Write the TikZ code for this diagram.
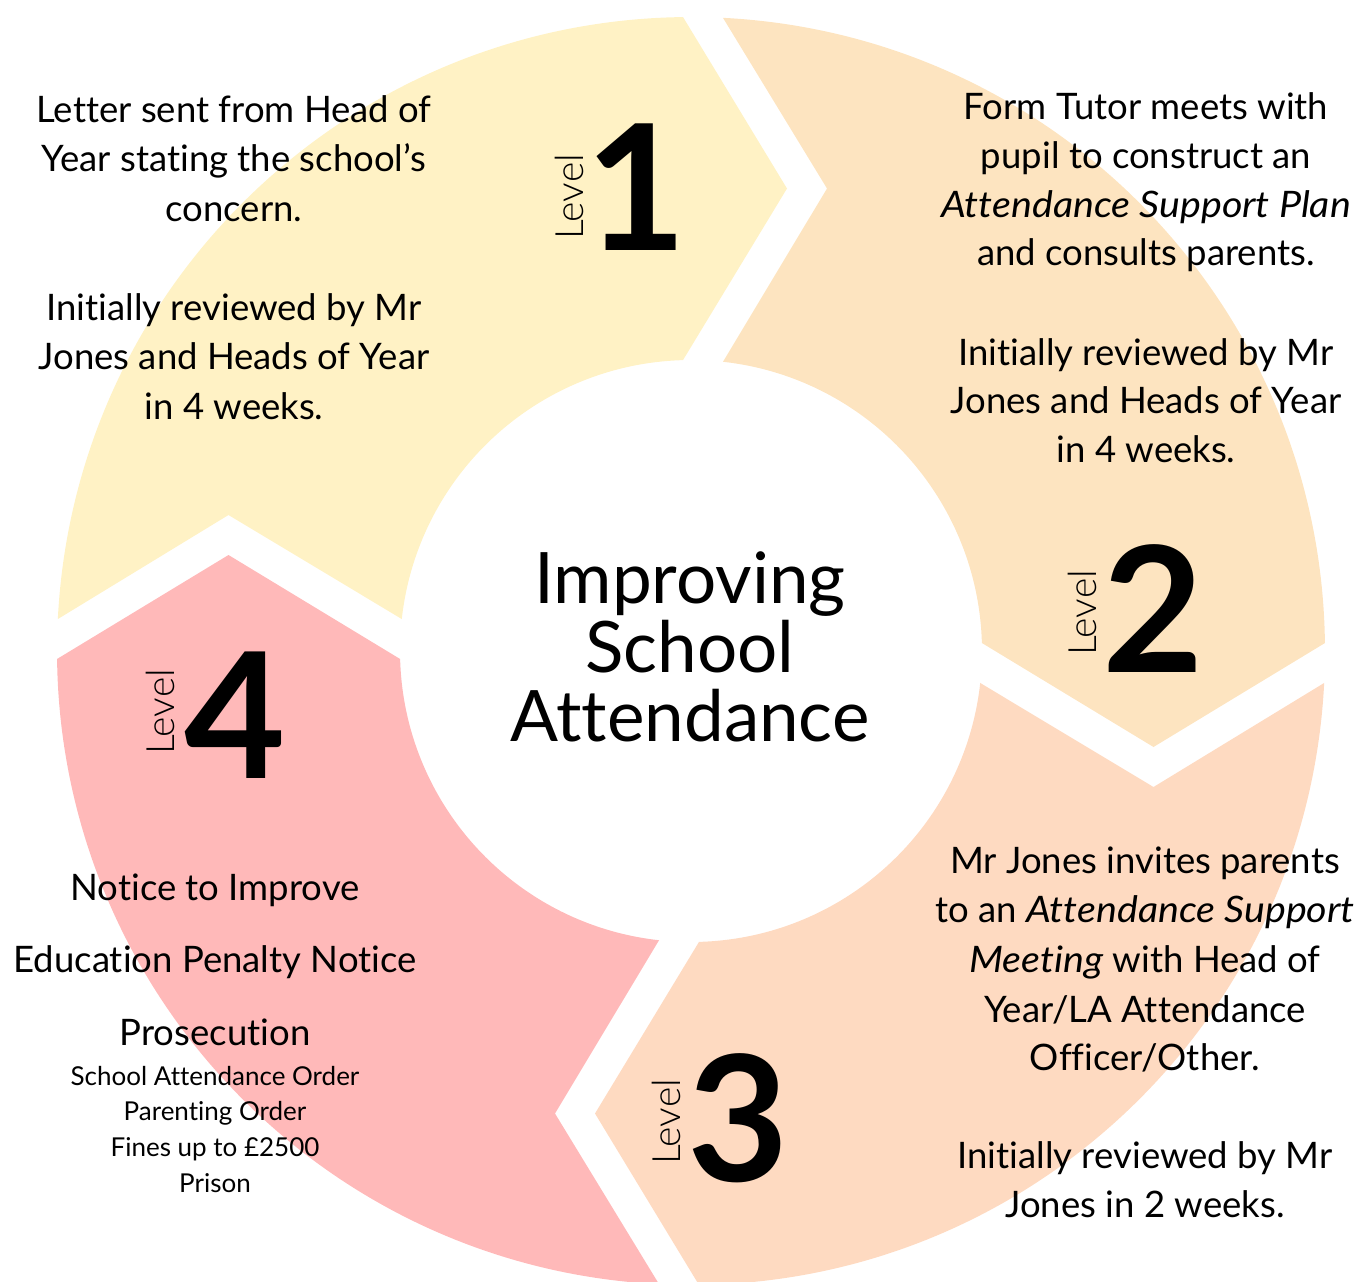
\documentclass[tikz,border=0pt]{standalone}
\usepackage{fontspec}
\setmainfont{Lato}[Ligatures=NoCommon, ItalicFeatures={FakeStretch=1.08}]
\newfontfamily\lightfont{Lato Light}
\definecolor{lvA}{HTML}{FFF2C5}
\definecolor{lvB}{HTML}{FDE4C0}
\definecolor{lvC}{HTML}{FEDAC1}
\definecolor{lvD}{HTML}{FFB9B9}
\tikzset{
  body/.style={font=\fontsize{36.5}{43}\selectfont, anchor=base, inner sep=0pt},
  small/.style={font=\fontsize{26}{31}\selectfont, anchor=base, inner sep=0pt},
  title/.style={font=\fontsize{71}{80}\selectfont, anchor=base, inner sep=0pt},
  bignum/.style={font=\fontsize{175}{175}\selectfont\bfseries, anchor=center, inner sep=0pt},
  lvl/.style={font=\fontsize{39}{44}\selectfont\lightfont, anchor=center, inner sep=0pt, rotate=90},
  segment/.pic={
    \path[fill=#1] (177.11:634) -- (-462.5,136) -- (173.69:291)
      arc[start angle=173.69, end angle=91.58, radius=291]
      -- (96,462.5) -- (90.72:634)
      arc[start angle=90.72, end angle=177.11, radius=634] -- cycle;
  }
}
\begin{document}
\begin{tikzpicture}[x=1pt,y=1pt]
\useasboundingbox (0,0) rectangle (1358,-1282);
% ring segments
\begin{scope}[shift={(691,-651)}]
  \pic (segA) at (0,0) {segment=lvA};
  \pic[rotate=-90] (segB) at (0,0) {segment=lvB};
  \pic[rotate=-180] (segC) at (0,0) {segment=lvC};
  \pic[rotate=-270] (segD) at (0,0) {segment=lvD};
\end{scope}
% centre title
\node[title] (t1) at (690,-603) {Improving};
\node[title] (t2) at (690,-672) {School};
\node[title] (t3) at (690,-741) {Attendance};
% level numbers
\node[bignum] (n1) at (636,-187) {1};
\node[lvl] (v1) at (569,-197) {Level};
\node[bignum] (n2) at (1153,-609) {2};
\node[lvl] (v2) at (1082,-613) {Level};
\node[bignum] (n3) at (738,-1118) {3};
\node[lvl] (v3) at (666,-1122) {Level};
\node[bignum] (n4) at (235,-715) {4};
\node[lvl] (v4) at (160,-712) {Level};
% level 1 text
\node[body] (a1) at (234,-122) {Letter sent from Head of};
\node[body] (a2) at (234,-171.5) {Year stating the school’s};
\node[body] (a3) at (234,-221) {concern.};
\node[body] (a4) at (234,-320) {Initially reviewed by Mr};
\node[body] (a5) at (234,-369.5) {Jones and Heads of Year};
\node[body] (a6) at (234,-419) {in 4 weeks.};
% level 2 text
\node[body] (b1) at (1146,-119) {Form Tutor meets with};
\node[body] (b2) at (1146,-168) {pupil to construct an};
\node[body] (b3) at (1146,-217) {\itshape Attendance Support Plan};
\node[body] (b4) at (1146,-265) {and consults parents.};
\node[body] (b5) at (1146,-365) {Initially reviewed by Mr};
\node[body] (b6) at (1146,-413) {Jones and Heads of Year};
\node[body] (b7) at (1146,-462) {in 4 weeks.};
% level 3 text
\node[body] (c1) at (1145,-873) {Mr Jones invites parents};
\node[body] (c2) at (1145,-922) {to an \textit{Attendance Support}};
\node[body] (c3) at (1145,-972) {\textit{Meeting} with Head of};
\node[body] (c4) at (1145,-1022) {Year/LA Attendance};
\node[body] (c5) at (1145,-1070) {Officer/Other.};
\node[body] (c6) at (1145,-1168) {Initially reviewed by Mr};
\node[body] (c7) at (1145,-1217) {Jones in 2 weeks.};
% level 4 text
\node[body] (d1) at (215,-900) {Notice to Improve};
\node[body] (d2) at (215,-972) {Education Penalty Notice};
\node[body] (d3) at (215,-1045) {Prosecution};
\node[small] (d4) at (215,-1085) {School Attendance Order};
\node[small] (d5) at (215,-1120) {Parenting Order};
\node[small] (d6) at (215,-1156) {Fines up to £2500};
\node[small] (d7) at (215,-1192) {Prison};
\end{tikzpicture}
\end{document}
